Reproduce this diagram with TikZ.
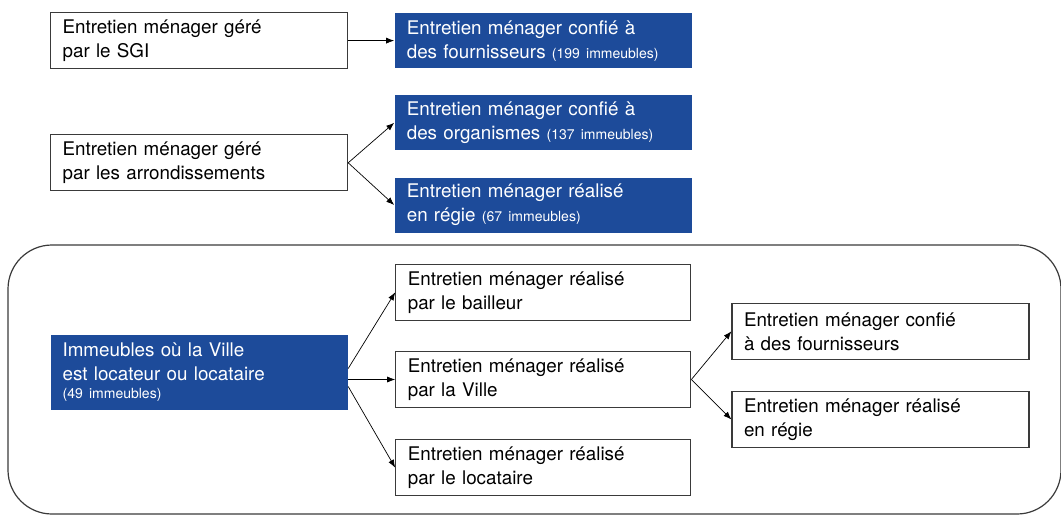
\documentclass[tikz,border=0pt]{standalone}
\usepackage{fontspec}
\setmainfont{TeX Gyre Heros}
\usetikzlibrary{arrows.meta, positioning}
\definecolor{villebleu}{HTML}{1D4B9A}
\definecolor{trait}{HTML}{3A3A3A}
\newcommand{\petit}{\fontsize{14}{16}\selectfont}

\begin{document}
\begin{tikzpicture}[
    x=1pt, y=1pt,
    every node/.style={font=\fontsize{18.8}{24}\selectfont},
    box/.style={draw=trait, line width=1.2pt, minimum width=297pt, minimum height=56pt, text width=273pt, inner xsep=12pt, inner ysep=0pt, align=left},
    bleu/.style={box, draw=none, fill=villebleu, text=white, minimum height=55pt},
    etroit/.style={minimum width=295pt, text width=271pt},
    arr/.style={-{Latex[length=8pt,width=6pt]}, line width=0.7pt}
]
    \useasboundingbox (0,0) rectangle (1061,-515);
    % cadre des immeubles en location
    \draw[trait, line width=1.2pt, rounded corners=44pt] (8,-245) rectangle (1061,-514);

    \node[box, anchor=north west] (sgi) at (50,-12) {Entretien ménager géré\\par le SGI};
    \node[bleu, right=46pt of sgi] (four) {Entretien ménager confié à\\des fournisseurs {\petit(199 immeubles)}};

    \node[box, below=65pt of sgi] (arrdt) {Entretien ménager géré\\par les arrondissements};
    \node[bleu, below=26pt of four] (orga) {Entretien ménager confié à\\des organismes {\petit(137 immeubles)}};
    \node[bleu, below=26pt of orga] (regie) {Entretien ménager réalisé\\en régie {\petit(67 immeubles)}};

    \node[bleu, below=143pt of arrdt, minimum height=75pt] (imm) {Immeubles où la Ville\\est locateur ou locataire\\[-6pt]{\petit(49 immeubles)}};
    \node[box, etroit, right=47pt of imm, yshift=-7pt] (ville) {Entretien ménager réalisé\\par la Ville};
    \node[box, etroit, above=30pt of ville] (bail) {Entretien ménager réalisé\\par le bailleur};
    \node[box, etroit, below=31pt of ville] (loc) {Entretien ménager réalisé\\par le locataire};

    \node[box, above right=-9pt and 40pt of ville] (vfour) {Entretien ménager confié\\à des fournisseurs};
    \node[box, below=31pt of vfour] (vregie) {Entretien ménager réalisé\\en régie};

    \draw[arr] (sgi) -- (four);
    \draw[arr] (arrdt.east) -- (orga.west);
    \draw[arr] (arrdt.east) -- (regie.west);
    \draw[arr] ([yshift=4pt]imm.east) -- (bail.west);
    \draw[arr] (imm.east |- ville.west) -- (ville.west);
    \draw[arr] ([yshift=-14pt]imm.east) -- (loc.west);
    \draw[arr] (ville.east) -- (vfour.west);
    \draw[arr] (ville.east) -- (vregie.west);
\end{tikzpicture}
\end{document}
